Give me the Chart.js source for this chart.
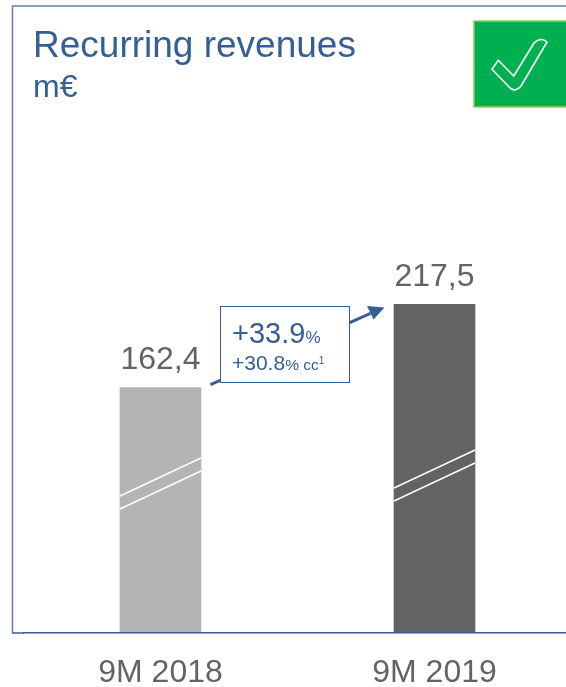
<!DOCTYPE html>
<html><head><meta charset="utf-8">
<style>html,body{margin:0;padding:0;background:#fff;overflow:hidden;width:566px;height:687px}canvas{display:block}</style>
<script src="https://cdn.jsdelivr.net/npm/chart.js@4"></script></head>
<body><canvas id="c" width="572" height="687"></canvas>
<script>
const categories = ['9M 2018', '9M 2019'];
const revenues = [162.4, 217.5];
const valueLabels = ['162,4', '217,5'];
const barColors = ['#B4B4B4', '#636363'];
const titleText = 'Recurring revenues';
const unitText = 'm€';
const growthMain = ['+33.9', '%'];
const growthCc = ['+30.8', '% cc', '1'];

const BLUE = '#355E94', FRAME = '#5F80AD', GRAY = '#636363';
const FF = '"Liberation Sans", Arial, sans-serif';

const overlay = {
  id: 'overlay',
  beforeDatasetsDraw(chart) {
    const c = chart.ctx;
    c.save();
    c.strokeStyle = FRAME; c.lineWidth = 1.5;
    c.beginPath(); c.moveTo(566, 6); c.lineTo(12.5, 6); c.lineTo(12.5, 633); c.stroke();
    c.strokeStyle = BLUE;
    c.beginPath(); c.moveTo(12, 633); c.lineTo(24, 633); c.stroke();
    c.restore();
  },
  afterDatasetsDraw(chart) {
    const c = chart.ctx;
    const bars = chart.getDatasetMeta(0).data;
    c.save();
    c.fillStyle = BLUE; c.textAlign = 'left'; c.textBaseline = 'alphabetic';
    c.font = '37px ' + FF; c.fillText(titleText, 33, 57);
    c.font = '32px ' + FF; c.fillText(unitText, 33, 97);
    bars.forEach((b, i) => {
      c.fillStyle = GRAY; c.textAlign = 'center'; c.font = '32px ' + FF;
      c.fillText(valueLabels[i], b.x, b.y - 18.5);
      const l = b.x - 40.5, r = b.x + 40.5;
      const y0 = i === 0 ? 496 : 488;
      c.strokeStyle = '#fff'; c.lineWidth = 1.5;
      [0, 13].forEach(d => { c.beginPath(); c.moveTo(l, y0 + d); c.lineTo(r, y0 + d - 38); c.stroke(); });
    });
    const sx = bars[0].x + 50, sy = bars[0].y - 3, tx = bars[1].x - 50, ty = bars[1].y + 3;
    c.strokeStyle = BLUE; c.fillStyle = BLUE; c.lineWidth = 2.8;
    c.beginPath(); c.moveTo(sx, sy); c.lineTo(tx - 14, ty + 6); c.stroke();
    c.beginPath(); c.moveTo(tx, ty); c.lineTo(tx - 17.5, ty - 1.5); c.lineTo(tx - 11, ty + 12); c.closePath(); c.fill();
    c.fillStyle = '#fff'; c.strokeStyle = BLUE; c.lineWidth = 1;
    c.fillRect(220.5, 306.5, 129, 76); c.strokeRect(220.5, 306.5, 129, 76);
    c.fillStyle = BLUE; c.textAlign = 'left';
    c.font = '29px ' + FF; c.fillText(growthMain[0], 232, 343);
    let w = c.measureText(growthMain[0]).width;
    c.font = '17px ' + FF; c.fillText(growthMain[1], 232 + w, 343);
    c.font = '21px ' + FF; c.fillText(growthCc[0], 232, 370);
    w = c.measureText(growthCc[0]).width;
    c.font = '15.5px ' + FF; c.fillText(growthCc[1], 232 + w, 370);
    const w2 = c.measureText(growthCc[1]).width;
    c.font = '10px ' + FF; c.fillText(growthCc[2], 232 + w + w2, 364);
    c.fillStyle = '#00B050'; c.strokeStyle = '#92D050'; c.lineWidth = 1.5;
    c.fillRect(474, 21, 100, 86); c.strokeRect(474, 21, 100, 86);
    c.strokeStyle = '#fff'; c.lineWidth = 1.6; c.lineJoin = 'round';
    c.beginPath();
    c.moveTo(492, 69.3); c.lineTo(498.3, 60.3); c.lineTo(513.7, 76); c.lineTo(534, 43);
    c.quadraticCurveTo(541, 36.5, 547, 42);
    c.lineTo(521, 86); c.quadraticCurveTo(515.5, 93, 509.3, 87.3);
    c.closePath(); c.stroke();
    c.restore();
  }
};

new Chart(document.getElementById('c'), {
  type: 'bar',
  data: { labels: categories, datasets: [{ data: revenues, backgroundColor: barColors, borderWidth: 0, barThickness: 81 }] },
  options: {
    responsive: false, animation: false,
    layout: { padding: { left: 23.5, right: 0.5, top: 6, bottom: 0 } },
    plugins: { legend: { display: false }, tooltip: { enabled: false } },
    scales: {
      x: {
        grid: { display: false, drawTicks: false },
        border: { display: true, color: BLUE, width: 1.5, z: 1 },
        ticks: { color: GRAY, font: { family: FF, size: 32 }, padding: 21, maxRotation: 0 },
        afterFit(s) { s.height = 54; }
      },
      y: { display: false, min: 0, max: 415 }
    }
  },
  plugins: [overlay]
});
</script></body></html>
